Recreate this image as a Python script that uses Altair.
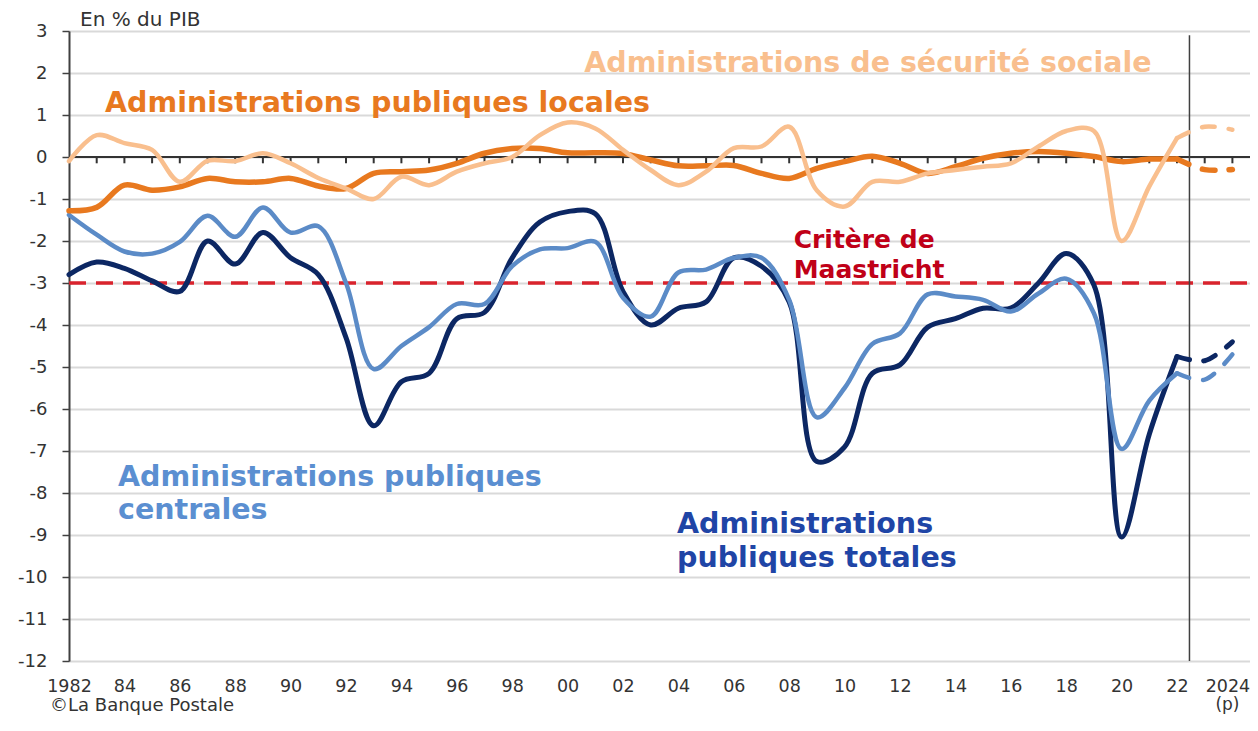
import altair as alt
import pandas as pd

# ---------------- data ----------------
years = list(range(1982, 2023))
total = [-2.8, -2.5, -2.65, -2.95, -3.2, -2.0, -2.55, -1.8, -2.4, -2.8,
         -4.3, -6.4, -5.35, -5.15, -3.85, -3.7, -2.4, -1.55, -1.3, -1.35,
         -3.2, -4.0, -3.6, -3.45, -2.4, -2.6, -3.45, -7.25, -6.9, -5.15,
         -4.95, -4.05, -3.85, -3.6, -3.6, -3.0, -2.3, -3.05, -9.05, -6.6, -4.75]
central = [-1.38, -1.85, -2.25, -2.3, -2.02, -1.4, -1.9, -1.2, -1.8, -1.65,
           -3.0, -5.05, -4.5, -4.05, -3.5, -3.5, -2.6, -2.2, -2.17, -2.02,
           -3.35, -3.8, -2.75, -2.68, -2.4, -2.4, -3.4, -6.2, -5.5, -4.45,
           -4.2, -3.27, -3.32, -3.4, -3.68, -3.25, -2.9, -3.72, -6.95, -5.8, -5.15]
locales = [-1.28, -1.2, -0.67, -0.79, -0.71, -0.51, -0.59, -0.59, -0.51, -0.69,
           -0.75, -0.39, -0.35, -0.31, -0.15, 0.09, 0.2, 0.2, 0.1, 0.1,
           0.08, -0.07, -0.21, -0.21, -0.2, -0.39, -0.51, -0.27, -0.11, 0.02,
           -0.15, -0.39, -0.23, -0.03, 0.09, 0.13, 0.09, 0.01, -0.11, -0.05, -0.05]
secu = [-0.1, 0.52, 0.33, 0.17, -0.59, -0.09, -0.1, 0.09, -0.15, -0.5,
        -0.75, -1.0, -0.47, -0.67, -0.35, -0.15, 0.0, 0.52, 0.82, 0.68,
        0.17, -0.31, -0.67, -0.35, 0.21, 0.25, 0.72, -0.8, -1.18, -0.59,
        -0.59, -0.39, -0.31, -0.23, -0.15, 0.25, 0.62, 0.62, -2.0, -0.7, 0.45]

proj_years = [2022, 2023, 2024]
total_proj = [-4.75, -4.85, -4.4]
central_proj = [-5.15, -5.3, -4.7]
locales_proj = [-0.05, -0.3, -0.3]
secu_proj = [0.45, 0.72, 0.65]

maastricht = -3
separator_year = 2022.45
tick_years = list(range(1983, 2025))
x_label_years = list(range(1982, 2025, 2))
y_ticks = list(range(-12, 4))

PLOT_W, PLOT_H = 1181, 630
X_MIN, X_MAX = 1982, 1982 + PLOT_W / 27.7
Y_MIN, Y_MAX = -12, 3

C_TOTAL = "#0c2763"
C_CENTRAL = "#5b8bc7"
C_LOCAL = "#e8791f"
C_SECU = "#f9bf8e"
C_RED = "#d9232d"

FONT = "DejaVu Sans"

# ---------------- tables ----------------
def series_df(xs, vs):
    return pd.DataFrame({"year": xs, "value": vs})

xs = alt.Scale(domain=[X_MIN, X_MAX], nice=False, zero=False)
ys = alt.Scale(domain=[Y_MIN, Y_MAX], nice=False, zero=False)

xaxis = alt.Axis(values=x_label_years, grid=False, domain=False, ticks=False,
                 labelFontSize=17.5, labelColor="#333333", labelPadding=16,
                 labelFont=FONT, labelOverlap=False, labelFlush=False, title=None,
                 labelOffset=alt.condition("datum.value == 2024", alt.value(-5), alt.value(0)),
                 labelExpr="datum.value == 1982 || datum.value == 2024 ? '' + datum.value : format(datum.value % 100, '02d')")
yaxis = alt.Axis(values=y_ticks, grid=True, gridColor="#d9d9d9", gridWidth=2,
                 domainColor="#404040", domainWidth=2, tickColor="#404040",
                 tickSize=7, tickWidth=1.5, labelFontSize=18, labelColor="#333333",
                 labelPadding=15, labelFont=FONT, title=None,
                 labelExpr="'' + datum.value")

X = alt.X("year:Q", scale=xs, axis=xaxis)
Y = alt.Y("value:Q", scale=ys, axis=yaxis)

# Maastricht criterion line
maas_df = pd.DataFrame({"year": [X_MIN], "year2": [X_MAX], "value": [maastricht]})
maas = alt.Chart(maas_df).mark_rule(color=C_RED, strokeWidth=3.5, strokeDash=[17, 10]).encode(
    x=X, x2="year2:Q", y=Y)

# zero line + ticks
zero_df = pd.DataFrame({"year": [X_MIN], "year2": [X_MAX], "value": [0]})
zero = alt.Chart(zero_df).mark_rule(color="#333333", strokeWidth=2).encode(x=X, x2="year2:Q", y=Y)
ticks_df = pd.DataFrame({"year": tick_years, "value": [0] * len(tick_years),
                         "value2": [-0.15] * len(tick_years)})
ticks = alt.Chart(ticks_df).mark_rule(color="#333333", strokeWidth=2).encode(x=X, y=Y, y2="value2:Q")

# separator
sep_df = pd.DataFrame({"year": [separator_year], "value": [2.9], "value2": [Y_MIN]})
sep = alt.Chart(sep_df).mark_rule(color="#404040", strokeWidth=1.5).encode(x=X, y=Y, y2="value2:Q")

def line(xv, vv, color, width, dash=None):
    kw = dict(color=color, strokeWidth=width, interpolate="catmull-rom",
              strokeCap="round", strokeJoin="round")
    if dash:
        kw["strokeDash"] = dash
    return alt.Chart(series_df(xv, vv)).mark_line(**kw).encode(x=X, y=Y)

DASH = [13, 14]
lines = [
    line(years, total, C_TOTAL, 5),
    line(proj_years, total_proj, C_TOTAL, 5, DASH),
    line(years, central, C_CENTRAL, 4.5),
    line(proj_years, central_proj, C_CENTRAL, 4.5, DASH),
    line(years, locales, C_LOCAL, 5.5),
    line(proj_years, locales_proj, C_LOCAL, 5.5, DASH),
    line(years, secu, C_SECU, 4.5),
    line(proj_years, secu_proj, C_SECU, 4.5, DASH),
]

def text(label, xv, yv, color, size, bold=True, align="left", baseline="alphabetic"):
    df = pd.DataFrame({"year": [xv], "value": [yv], "label": [label]})
    return alt.Chart(df).mark_text(align=align, baseline=baseline, font=FONT,
                                   fontSize=size, fontWeight="bold" if bold else "normal",
                                   color=color).encode(x=X, y=Y, text="label:N")

texts = [
    text("Administrations de sécurité sociale", 2000.6, 2.03, C_SECU, 28.5),
    text("Administrations publiques locales", 1983.3, 1.08, C_LOCAL, 28.5),
    text("Critère de", 2008.16, -2.17, "#c00018", 25),
    text("Maastricht", 2008.16, -2.88, "#c00018", 25),
    text("Administrations publiques", 1983.77, -7.83, "#5b8fd1", 28.5),
    text("centrales", 1983.77, -8.62, "#5b8fd1", 28.5),
    text("Administrations", 2003.95, -8.96, "#1f45a6", 28.5),
    text("publiques totales", 2003.95, -9.75, "#1f45a6", 28.5),
    text("En % du PIB", 1982.4, 3.12, "#333333", 20, bold=False),
    text("(p)", 2023.82, -13.05, "#333333", 17, bold=False, align="center", baseline="middle"),
    text("©La Banque Postale", 1981.315, -13.06, "#333333", 18, bold=False, baseline="middle"),
]

chart = alt.layer(maas, zero, ticks, sep, *lines, *texts).properties(
    width=PLOT_W, height=PLOT_H,
    autosize=alt.AutoSizeParams(type="none"),
    padding={"left": 61, "top": 23, "right": 0, "bottom": 57},
).configure_view(stroke=None).configure(font=FONT)

chart.save("out.html", embed_options={"renderer": "svg", "actions": False})
